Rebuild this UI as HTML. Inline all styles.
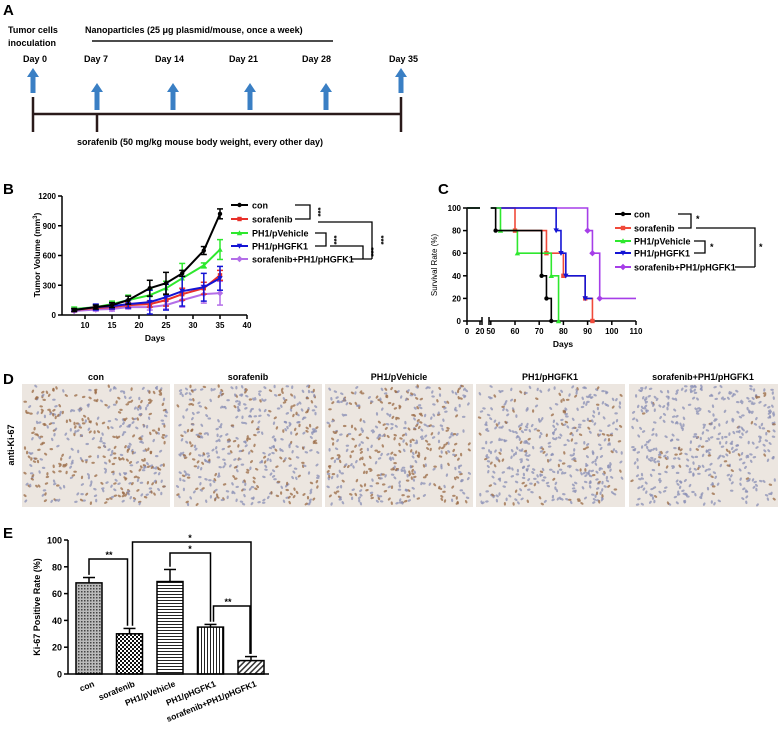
<!DOCTYPE html>
<html><head><meta charset="utf-8"><style>
body{margin:0;background:#fff;}
svg{display:block;font-family:"Liberation Sans",Arial,sans-serif;}
.b{font-weight:bold;}
</style></head><body>
<svg id="fig" width="778" height="739" viewBox="0 0 778 739">
<defs>
<pattern id="pCon" width="3" height="3" patternUnits="userSpaceOnUse"><rect width="3" height="3" fill="#bbb"/><rect width="1.5" height="1.5" fill="#444"/></pattern>
<pattern id="pSor" width="4" height="4" patternUnits="userSpaceOnUse"><rect width="4" height="4" fill="#fff"/><rect width="2" height="2" fill="#111"/><rect x="2" y="2" width="2" height="2" fill="#111"/></pattern>
<pattern id="pVeh" width="4" height="3" patternUnits="userSpaceOnUse"><rect width="4" height="3" fill="#fff"/><rect width="4" height="1" fill="#222"/></pattern>
<pattern id="pHg" width="3" height="4" patternUnits="userSpaceOnUse"><rect width="3" height="4" fill="#fff"/><rect width="1" height="4" fill="#222"/></pattern>
<pattern id="pCmb" width="4" height="4" patternUnits="userSpaceOnUse" patternTransform="rotate(45)"><rect width="4" height="4" fill="#fff"/><rect width="1.5" height="4" fill="#333"/></pattern>
</defs>

<!-- Panel A -->
<g>
<text x="3" y="15" font-size="15" class="b">A</text>
<text x="8" y="33" font-size="9" class="b">Tumor cells</text>
<text x="8" y="46" font-size="9" class="b">inoculation</text>
<text x="85" y="33" font-size="9" class="b">Nanoparticles (25 μg plasmid/mouse, once a week)</text>
<line x1="92" y1="41" x2="333" y2="41" stroke="#111" stroke-width="1.5"/>
<g font-size="9" class="b">
<text x="23" y="62">Day 0</text><text x="84" y="62">Day 7</text><text x="155" y="62">Day 14</text><text x="229" y="62">Day 21</text><text x="302" y="62">Day 28</text><text x="389" y="62">Day 35</text></g>
<g fill="#3a7fc4">
<path d="M33 68 L39 77 L35.5 77 L35.5 93 L30.5 93 L30.5 77 L27 77Z"/>
<path d="M97 83 L103 92 L99.5 92 L99.5 110 L94.5 110 L94.5 92 L91 92Z"/>
<path d="M173 83 L179 92 L175.5 92 L175.5 110 L170.5 110 L170.5 92 L167 92Z"/>
<path d="M250 83 L256 92 L252.5 92 L252.5 110 L247.5 110 L247.5 92 L244 92Z"/>
<path d="M326 83 L332 92 L328.5 92 L328.5 110 L323.5 110 L323.5 92 L320 92Z"/>
<path d="M401 68 L407 77 L403.5 77 L403.5 93 L398.5 93 L398.5 77 L395 77Z"/>
</g>
<g stroke="#2a1a1a" stroke-width="2.5">
<line x1="33" y1="114" x2="401" y2="114"/><line x1="33" y1="97" x2="33" y2="132"/><line x1="401" y1="97" x2="401" y2="132"/><line x1="97" y1="114" x2="97" y2="132"/></g>
<text x="77" y="145" font-size="9" class="b">sorafenib (50 mg/kg mouse body weight, every other day)</text>
</g>

<!-- Panel B -->
<g id="pb">
<text x="3" y="194" font-size="15" class="b">B</text>
<text transform="translate(40,255) rotate(-90)" text-anchor="middle" font-size="8.5" class="b">Tumor Volume (mm<tspan font-size="6" dy="-3">3</tspan><tspan dy="3">)</tspan></text>
<text x="155" y="341" text-anchor="middle" font-size="8.5" class="b">Days</text>
</g>

<!-- Panel C -->
<g id="pc">
<text x="438" y="194" font-size="15" class="b">C</text>
<text transform="translate(437,265) rotate(-90)" text-anchor="middle" font-size="8">Survival Rate (%)</text>
<text x="563" y="347" text-anchor="middle" font-size="8.5" class="b">Days</text>
</g>

<!-- Panel D -->
<g id="pd">
<text x="3" y="384" font-size="15" class="b">D</text>
<text transform="translate(14,445) rotate(-90)" text-anchor="middle" font-size="9" class="b">anti-Ki-67</text>
<g font-size="9" class="b" text-anchor="middle">
<text x="96" y="380">con</text><text x="248" y="380">sorafenib</text><text x="399" y="380">PH1/pVehicle</text><text x="550" y="380">PH1/pHGFK1</text><text x="703" y="380">sorafenib+PH1/pHGFK1</text></g>
</g>

<!-- Panel E -->
<g id="pe">
<text x="3" y="538" font-size="15" class="b">E</text>
<text transform="translate(40,607) rotate(-90)" text-anchor="middle" font-size="9" class="b">Ki-67 Positive Rate (%)</text>
</g>
</svg>
<script>
const NS="http://www.w3.org/2000/svg";
function mk(p,t,a){const e=document.createElementNS(NS,t);for(const k in a)e.setAttribute(k,a[k]);p.appendChild(e);return e;}

// ===== Panel B data =====
const bDays=[8,12,15,18,22,25,28,32,35];
const bCon=[50,80,100,150,270,320,420,650,1020];
const bConErr=[15,20,25,40,80,110,30,40,50];
const bSor=[50,70,80,100,110,150,210,270,400];
const bSorErr=[10,15,20,25,30,60,60,60,50];
const bVeh=[60,80,110,150,200,270,370,500,660];
const bVehErr=[20,20,30,50,60,70,150,25,100];
const bHg=[50,80,90,110,130,180,240,280,370];
const bHgErr=[10,30,30,40,120,130,150,140,120];
const bCmb=[40,55,60,80,80,100,150,210,220];
const bCmbErr=[10,15,20,20,30,40,70,90,120];
const bXTicks=[10,15,20,25,30,35,40];
const bYTicks=[0,300,600,900,1200];
const bNames=["con","sorafenib","PH1/pVehicle","PH1/pHGFK1","sorafenib+PH1/pHGFK1"];
const xB=d=>85+(d-10)*5.4, yB=v=>315-v*119/1200;

function marker(g,shape,x,y,c,s){
  if(shape==="circle")return mk(g,"circle",{cx:x,cy:y,r:s,fill:c});
  if(shape==="square")return mk(g,"rect",{x:x-s,y:y-s,width:2*s,height:2*s,fill:c});
  if(shape==="up")return mk(g,"path",{d:`M${x} ${y-s-0.5}L${x+s+0.5} ${y+s}L${x-s-0.5} ${y+s}Z`,fill:c});
  if(shape==="down")return mk(g,"path",{d:`M${x} ${y+s+0.5}L${x+s+0.5} ${y-s}L${x-s-0.5} ${y-s}Z`,fill:c});
  return mk(g,"path",{d:`M${x} ${y-s-1}L${x+s+1} ${y}L${x} ${y+s+1}L${x-s-1} ${y}Z`,fill:c});
}
const shapes=["circle","square","up","down","diamond"];
(function(){
  const g=document.getElementById("pb");
  const ax=mk(g,"g",{stroke:"#000","stroke-width":1.5,fill:"none"});
  
  
  mk(ax,"line",{x1:62,y1:196,x2:62,y2:315});mk(ax,"line",{x1:62,y1:315,x2:247,y2:315});
  bYTicks.forEach(v=>{mk(ax,"line",{x1:58,y1:yB(v),x2:62,y2:yB(v)});
    const t=mk(g,"text",{x:56,y:yB(v)+3,"text-anchor":"end","font-size":8,"font-weight":"bold"});t.textContent=v;
    
    });
  bXTicks.forEach(v=>{mk(ax,"line",{x1:xB(v),y1:315,x2:xB(v),y2:319});
    const t=mk(g,"text",{x:xB(v),y:328,"text-anchor":"middle","font-size":8,"font-weight":"bold"});t.textContent=v;
    
    });
  const series=[[bCon,bConErr,"#000"],[bSor,bSorErr,"#e8302a"],[bVeh,bVehErr,"#2ee82e"],[bHg,bHgErr,"#1414d4"],[bCmb,bCmbErr,"#b36ee8"]];
  [2,4,1,3,0].forEach(i=>{
    const [vals,errs,c]=series[i];
    const sg=mk(g,"g",{});
    
    
    bDays.forEach((d,k)=>{const x=xB(d);
      mk(sg,"line",{x1:x,y1:yB(vals[k]-errs[k]),x2:x,y2:yB(vals[k]+errs[k]),stroke:c,"stroke-width":1.5});
      mk(sg,"line",{x1:x-3,y1:yB(vals[k]+errs[k]),x2:x+3,y2:yB(vals[k]+errs[k]),stroke:c,"stroke-width":1.5});
      mk(sg,"line",{x1:x-3,y1:yB(vals[k]-errs[k]),x2:x+3,y2:yB(vals[k]-errs[k]),stroke:c,"stroke-width":1.5});});
    mk(sg,"polyline",{points:bDays.map((d,k)=>xB(d)+","+yB(vals[k])).join(" "),fill:"none",stroke:c,"stroke-width":2});
    bDays.forEach((d,k)=>marker(sg,shapes[i],xB(d),yB(vals[k]),c,2.2));
  });
  const ly=[205,219,233,246,259];
  series.forEach((s,i)=>{const lg=mk(g,"g",{});
    
    
    mk(lg,"line",{x1:231,y1:ly[i],x2:248,y2:ly[i],stroke:s[2],"stroke-width":2});
    marker(lg,shapes[i],239.5,ly[i],s[2],2.2);
    const t=mk(lg,"text",{x:252,y:ly[i]+3.5,"font-size":9,"font-weight":"bold"});t.textContent=bNames[i];});
  const br=mk(g,"g",{stroke:"#000","stroke-width":1.3,fill:"none"});
  
  
  mk(br,"polyline",{points:"295,205 310,205 310,219 295,219"});
  mk(br,"polyline",{points:"318,222 372,222 372,259"});
  mk(br,"polyline",{points:"315,233 326,233 326,246 315,246"});
  mk(br,"polyline",{points:"330,246 363,246 363,259"});
  mk(br,"line",{x1:352,y1:259,x2:372,y2:259});
  [[315,212],[331,240],[368,252],[378,240]].forEach(p=>{const t=mk(g,"text",{transform:`translate(${p[0]},${p[1]}) rotate(90)`,"text-anchor":"middle","font-size":8,"font-weight":"bold"});t.textContent="***";});
})();

// ===== Panel C data =====
const cNames=["con","sorafenib","PH1/pVehicle","PH1/pHGFK1","sorafenib+PH1/pHGFK1"];
const cConT=[52,71,73,75], cConS=[80,40,20,0], cConEnd=75;
const cSorT=[60,73,80,89,92], cSorS=[80,60,40,20,0], cSorEnd=92;
const cVehT=[54,61,75,78], cVehS=[80,60,40,0], cVehEnd=78;
const cHgT=[77,79,81,89], cHgS=[80,60,40,20], cHgEnd=92;
const cCmbT=[90,92,95], cCmbS=[80,60,20], cCmbEnd=110;
const cXTicks=[0,20,50,60,70,80,90,100,110];
const cYTicks=[0,20,40,60,80,100];
const xC=t=>t<=20?467+t*0.65:490.8+(t-50)*2.42, yC=s=>321-s*1.13;
(function(){
  const g=document.getElementById("pc");
  const ax=mk(g,"g",{stroke:"#000","stroke-width":1.5,fill:"none"});
  
  
  mk(ax,"line",{x1:467,y1:208,x2:467,y2:321});
  mk(ax,"line",{x1:467,y1:321,x2:482,y2:321});mk(ax,"line",{x1:489,y1:321,x2:636,y2:321});
  mk(ax,"line",{x1:482,y1:317,x2:482,y2:325});mk(ax,"line",{x1:489,y1:317,x2:489,y2:325});
  cYTicks.forEach(v=>{mk(ax,"line",{x1:463,y1:yC(v),x2:467,y2:yC(v)});
    const t=mk(g,"text",{x:461,y:yC(v)+3,"text-anchor":"end","font-size":8,"font-weight":"bold"});t.textContent=v;
    
    });
  cXTicks.forEach(v=>{mk(ax,"line",{x1:xC(v),y1:321,x2:xC(v),y2:325});
    const t=mk(g,"text",{x:xC(v),y:334,"text-anchor":"middle","font-size":8,"font-weight":"bold"});t.textContent=v;
    
    });
  const S=[[cConT,cConS,cConEnd,"#000"],[cSorT,cSorS,cSorEnd,"#f04a3a"],[cVehT,cVehS,cVehEnd,"#2ee82e"],[cHgT,cHgS,cHgEnd,"#1414d4"],[cCmbT,cCmbS,cCmbEnd,"#a63ee8"]];
  [4,1,3,2,0].forEach(i=>{const [T,Sv,end,c]=S[i];
    const sg=mk(g,"g",{});
    
    
    let pts=[[0,100]],prev=100;
    T.forEach((t,k)=>{pts.push([t,prev]);pts.push([t,Sv[k]]);prev=Sv[k];});
    pts.push([end,prev]);
    // split at axis break
    let d="M"+xC(0)+" "+yC(100)+" L"+xC(20)+" "+yC(100)+" M"+xC(50)+" "+yC(100);
    pts.slice(1).forEach(p=>{d+=" L"+xC(p[0])+" "+yC(p[1]);});
    mk(sg,"path",{d:d,fill:"none",stroke:c,"stroke-width":1.6});
    T.forEach((t,k)=>marker(sg,shapes[i],xC(t),yC(Sv[k]),c,2.2));
  });
  const ly=[214,228,241,253,267];
  S.forEach((s,i)=>{const lg=mk(g,"g",{});
    
    
    mk(lg,"line",{x1:615,y1:ly[i],x2:631,y2:ly[i],stroke:s[3],"stroke-width":2});
    marker(lg,shapes[i],623,ly[i],s[3],2.2);
    const t=mk(lg,"text",{x:634,y:ly[i]+3.5,"font-size":9,"font-weight":"bold"});t.textContent=cNames[i];});
  const br=mk(g,"g",{stroke:"#000","stroke-width":1.3,fill:"none"});
  
  
  mk(br,"polyline",{points:"678,214 691,214 691,228 678,228"});
  mk(br,"polyline",{points:"696,228 755,228 755,267"});
  mk(br,"polyline",{points:"694,241 705,241 705,253 694,253"});
  mk(br,"line",{x1:735,y1:267,x2:755,y2:267});
  [[696,222],[710,250],[759,250]].forEach(p=>{const t=mk(g,"text",{x:p[0],y:p[1],"font-size":9,"font-weight":"bold"});t.textContent="*";});
})();

// ===== Panel D (IHC micrographs, texture only) =====
(function(){
  const g=document.getElementById("pd");
  const xs=[22,174,325,476,629], ws=[148,148,148,149,149];
  const brown=[0.55,0.35,0.5,0.2,0.08];
  let seed=7;const rnd=()=>{seed=(seed*16807)%2147483647;return seed/2147483647;};
  xs.forEach((x0,i)=>{
    const ig=mk(g,"g",{});
    
    
    mk(ig,"rect",{x:x0,y:384,width:ws[i],height:123,fill:"#ece6e0"});
    for(let k=0;k<420;k++){
      const x=x0+3+rnd()*(ws[i]-6),y=386+rnd()*119;
      const br=rnd()<brown[i];
      mk(ig,"ellipse",{cx:x.toFixed(1),cy:y.toFixed(1),rx:1.8,ry:1.1,transform:`rotate(${(rnd()*180).toFixed(0)} ${x.toFixed(1)} ${y.toFixed(1)})`,fill:br?"#9a6a44":"#8a8fb5","fill-opacity":0.75});
    }
  });
})();

// ===== Panel E data =====
const eCats=["con","sorafenib","PH1/pVehicle","PH1/pHGFK1","sorafenib+PH1/pHGFK1"];
const eVals=[68,30,69,35,10];
const eErr=[4,4,9,2,3];
const eYTicks=[0,20,40,60,80,100];
const eFills=["url(#pCon)","url(#pSor)","url(#pVeh)","url(#pHg)","url(#pCmb)"];
const yE=v=>674-v*1.34, xE=i=>89+i*40.5;
(function(){
  const g=document.getElementById("pe");
  eCats.forEach((c,i)=>{const cx=xE(i);
    const r=mk(g,"rect",{x:cx-13,y:yE(eVals[i]),width:26,height:674-yE(eVals[i]),fill:eFills[i],stroke:"#000","stroke-width":1.5});
    
    
    const t=yE(eVals[i]+eErr[i]);
    mk(g,"line",{x1:cx,y1:yE(eVals[i]),x2:cx,y2:t,stroke:"#000","stroke-width":1.5});
    mk(g,"line",{x1:cx-6,y1:t,x2:cx+6,y2:t,stroke:"#000","stroke-width":1.5});
    const lb=mk(g,"text",{transform:`translate(${cx+6},686) rotate(-22)`,"text-anchor":"end","font-size":8.5,"font-weight":"bold"});lb.textContent=c;
    
    
  });
  const ax=mk(g,"g",{stroke:"#000","stroke-width":1.5,fill:"none"});
  
  
  mk(ax,"line",{x1:68,y1:540,x2:68,y2:674});mk(ax,"line",{x1:68,y1:674,x2:269,y2:674});
  eYTicks.forEach(v=>{mk(ax,"line",{x1:64,y1:yE(v),x2:68,y2:yE(v)});
    const t=mk(g,"text",{x:62,y:yE(v)+3.5,"text-anchor":"end","font-size":9,"font-weight":"bold"});t.textContent=v;
    
    });
  const br=mk(g,"g",{stroke:"#000","stroke-width":1.5,fill:"none"});
  
  
  mk(br,"polyline",{points:`${xE(0)},${yE(74)} ${xE(0)},559 ${xE(1)-2},559 ${xE(1)-2},${yE(36)}`});
  mk(br,"polyline",{points:`${xE(1)+3},${yE(36)} ${xE(1)+3},542 ${xE(4)},542 ${xE(4)},${yE(15)}`});
  mk(br,"polyline",{points:`${xE(2)},${yE(80)} ${xE(2)},553 ${xE(3)},553 ${xE(3)},${yE(39)}`});
  mk(br,"polyline",{points:`${xE(3)+3},${yE(39)} ${xE(3)+3},606 ${xE(4)-1},606 ${xE(4)-1},${yE(15)}`});
  [[109,558,"**"],[190,541,"*"],[190,552,"*"],[228,605,"**"]].forEach(p=>{const t=mk(g,"text",{x:p[0],y:p[1],"text-anchor":"middle","font-size":9,"font-weight":"bold"});t.textContent=p[2];});
})();
</script>
</body></html>
